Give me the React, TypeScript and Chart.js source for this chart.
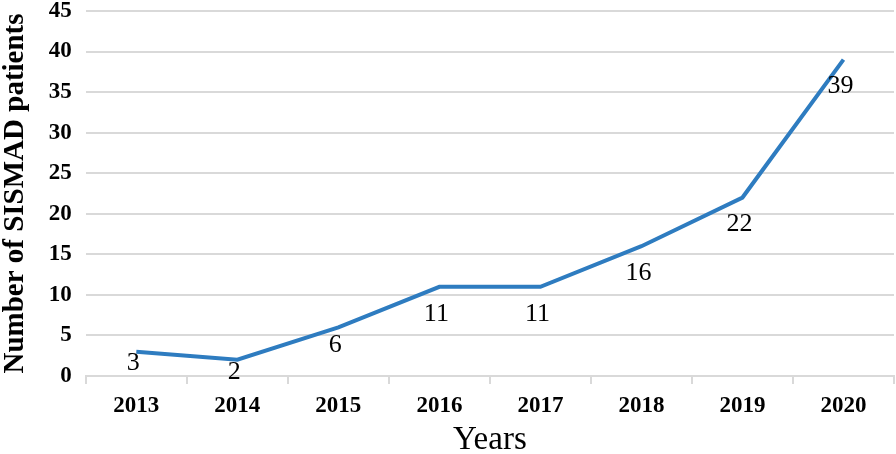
import React, { useEffect, useRef } from "react";
import { Chart, registerables } from "chart.js";

Chart.register(...registerables);

const years = ["2013", "2014", "2015", "2016", "2017", "2018", "2019", "2020"];
const patients = [3, 2, 6, 11, 11, 16, 22, 39];
const yTitle = "Number of SISMAD patients";
const xTitle = "Years";

const labelPlugin = {
  id: "pointLabels",
  afterDatasetsDraw(chart: any) {
    const ctx = chart.ctx;
    const meta = chart.getDatasetMeta(0);
    ctx.save();
    ctx.font = "26px 'Liberation Serif', 'Times New Roman', serif";
    ctx.fillStyle = "#000";
    ctx.textAlign = "center";
    ctx.textBaseline = "middle";
    meta.data.forEach((pt: any, i: number) => {
      const v = chart.data.datasets[0].data[i];
      const off = i <= 1 ? 12 : i === 2 ? 18 : 27;
      ctx.fillText(String(v), pt.x - 3, pt.y + off);
    });
    ctx.restore();
  },
};

export default function App() {
  const ref = useRef<HTMLCanvasElement>(null);
  useEffect(() => {
    document.body.style.margin = "0";
    const chart = new Chart(ref.current!, {
      type: "line",
      data: {
        labels: years,
        datasets: [
          {
            data: patients,
            borderColor: "#2E7CC0",
            borderWidth: 4,
            pointRadius: 0,
            tension: 0,
          },
        ],
      },
      options: {
        responsive: false,
        animation: false,
        layout: { padding: { top: 11, right: 2, left: -2, bottom: 0 } },
        plugins: { legend: { display: false }, tooltip: { enabled: false } },
        scales: {
          x: {
            offset: true,
            afterFit(scale: any) {
              scale.height = 78;
            },
            grid: {
              drawOnChartArea: false,
              drawTicks: true,
              tickLength: 8,
              color: "#d9d9d9",
              lineWidth: 2,
              offset: true,
            },
            border: { display: true, color: "#d9d9d9", width: 2 },
            ticks: {
              color: "#000",
              padding: 8,
              font: { family: "'Liberation Serif', serif", size: 23, weight: "bold" },
            },
            title: {
              display: true,
              text: xTitle,
              color: "#000",
              padding: { top: -5, bottom: -6 },
              font: { family: "'Liberation Serif', serif", size: 33 },
            },
          },
          y: {
            min: 0,
            max: 45,
            afterFit(scale: any) {
              scale.paddingTop = 0;
              scale.paddingBottom = 0;
            },
            ticks: {
              stepSize: 5,
              color: "#000",
              padding: 14,
              font: { family: "'Liberation Serif', serif", size: 23, weight: "bold" },
            },
            grid: { color: "#d9d9d9", lineWidth: 2, drawTicks: false },
            border: { display: false },
            title: {
              display: true,
              text: yTitle,
              color: "#000",
              padding: { top: 0, bottom: 2 },
              font: { family: "'Liberation Serif', serif", size: 29, weight: "bold" },
            },
          },
        },
      },
      plugins: [labelPlugin],
    });
    return () => chart.destroy();
  }, []);
  return (
    <div style={{ position: "absolute", left: 0, top: 0, width: 896, height: 454 }}>
      <canvas ref={ref} width={896} height={454} />
    </div>
  );
}
